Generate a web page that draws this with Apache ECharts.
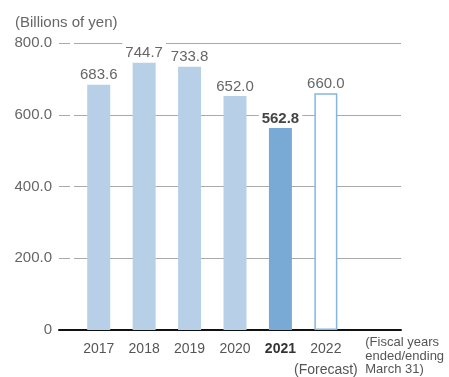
<!DOCTYPE html>
<html>
<head>
<meta charset="utf-8">
<script src="https://cdn.jsdelivr.net/npm/echarts@6/dist/echarts.min.js"></script>
<style>
  html, body { margin: 0; padding: 0; background: #fff; }
  #chart { width: 449px; height: 377px; }
</style>
</head>
<body>
<div id="chart"></div>
<script>
// Net sales by fiscal year, billions of yen
const years = ['2017', '2018', '2019', '2020', '2021', '2022'];
const sales = [683.6, 744.7, 733.8, 652.0, 562.8, 660.0];
const yTicks = [0, 200, 400, 600, 800];

const FONT = '"Liberation Sans", Arial, sans-serif';
const LIGHT = '#b7d0e8';
const CURRENT = '#78aad5';
const OUTLINE = '#85b6df';

// Last category is empty; its label carries the fiscal-year note
const categories = years.map(y => ({ value: y })).concat([
  { value: 'note', textStyle: { align: 'left' } }
]);

const barData = sales.map((v, i) => {
  const item = { value: v };
  if (years[i] === '2021') {
    item.itemStyle = { color: CURRENT };
    item.label = { fontWeight: 'bold', color: '#444' };
  } else if (years[i] === '2022') {
    item.itemStyle = { color: '#fff', borderColor: OUTLINE, borderWidth: 1.5 };
  }
  return item;
});

const chart = echarts.init(document.getElementById('chart'), null, { renderer: 'canvas' });
chart.setOption({
  animation: false,
  backgroundColor: '#fff',
  title: {
    text: '(Billions of yen)',
    left: 10, top: 10,
    textStyle: { fontFamily: FONT, fontSize: 15, fontWeight: 'normal', color: '#666' }
  },
  grid: [
    // frame: value gridlines and the baseline
    { left: 59, right: 48, top: 43, bottom: 47 },
    // bars
    { left: 76, right: 55, top: 43, bottom: 47 }
  ],
  xAxis: [
    {
      gridIndex: 0, type: 'category', data: [''],
      axisLine: { lineStyle: { color: '#111', width: 2 } },
      axisTick: { show: false }, axisLabel: { show: false }
    },
    {
      gridIndex: 1, type: 'category', data: categories,
      axisLine: { show: false }, axisTick: { show: false },
      axisLabel: {
        margin: 6,
        interval: 0,
        fontFamily: FONT,
        formatter: function (v) {
          if (v === 'note') return '{n|(Fiscal years}\n{n|ended/ending}\n{n|March 31)}';
          if (v === '2021') return '{b|' + v + '}';
          if (v === '2022') return '{y|' + v + '}\n{f|(Forecast)}';
          return '{y|' + v + '}';
        },
        rich: {
          y: { fontFamily: FONT, fontSize: 14, lineHeight: 26, color: '#555' },
          b: { fontFamily: FONT, fontSize: 14, lineHeight: 26, color: '#333', fontWeight: 'bold' },
          f: { fontFamily: FONT, fontSize: 14, lineHeight: 16, color: '#555' },
          n: { fontFamily: FONT, fontSize: 13, lineHeight: 13.5, color: '#555', padding: [0, 0, 0, -6] }
        }
      }
    }
  ],
  yAxis: [
    {
      gridIndex: 0, type: 'value', min: 0, max: 800, interval: 200,
      axisLine: { show: false }, axisTick: { show: false },
      axisLabel: {
        margin: 7,
        fontFamily: FONT, fontSize: 15, color: '#666',
        formatter: v => (yTicks.indexOf(v) < 0 ? '' : (v === 0 ? '0' : v.toFixed(1)))
      },
      splitLine: { lineStyle: { color: '#aaa', width: 1, type: [11, 4, 1000] } }
    },
    {
      gridIndex: 1, type: 'value', min: 0, max: 800, interval: 200, show: false
    }
  ],
  series: [
    {
      type: 'bar',
      xAxisIndex: 1, yAxisIndex: 1,
      data: barData,
      barWidth: 23,
      itemStyle: { color: LIGHT },
      label: {
        show: true, position: 'top', distance: 2,
        fontFamily: FONT, fontSize: 15, color: '#666',
        backgroundColor: '#fff', padding: [3, 3, 0, 3],
        formatter: p => p.value.toFixed(1)
      }
    }
  ]
});
</script>
</body>
</html>
